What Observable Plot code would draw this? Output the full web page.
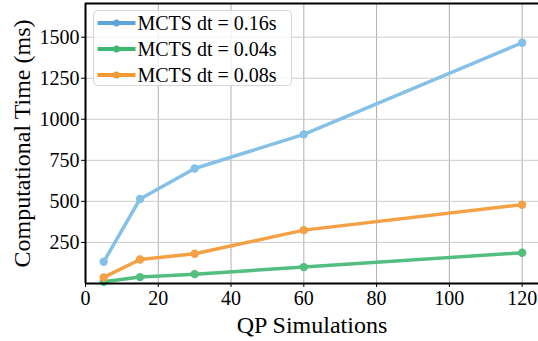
<!DOCTYPE html>
<html>
<head>
<meta charset="utf-8">
<script src="https://cdn.jsdelivr.net/npm/d3@7"></script>
<script src="https://cdn.jsdelivr.net/npm/@observablehq/plot@0.6"></script>
<style>
  html, body { margin: 0; padding: 0; background: white; }
  #wrap { position: relative; width: 538px; height: 341px; }
  #wrap svg, #wrap svg g, #wrap svg text { font-family: "Liberation Serif", "Times New Roman", serif !important; font-variant: normal !important; }
  #legend { position: absolute; left: 0; top: 0; pointer-events: none; }
</style>
</head>
<body>
<div id="wrap"></div>
<script>
// ---- data ----
const qpSims = [5, 15, 30, 60, 120];
const dt016 = [132, 515, 700, 908, 1466];
const dt004 = [10, 39, 57, 100, 187];
const dt008 = [37, 146, 181, 325, 480];
const seriesNames = ["MCTS dt = 0.16s", "MCTS dt = 0.04s", "MCTS dt = 0.08s"];
const lineColors = ["#85C1E6", "#52BE80", "#F4A044"];
const legendColors = ["#5DA5DA", "#3DB870", "#F39A33"];
const xTicks = [0, 20, 40, 60, 80, 100, 120];
const yTicks = [250, 500, 750, 1000, 1250, 1500];
const xLabel = "QP Simulations";
const yLabel = "Computational Time (ms)";

const allSeries = [dt016, dt004, dt008];
const data = [];
allSeries.forEach((vals, i) => vals.forEach((v, j) => data.push({series: seriesNames[i], x: qpSims[j], y: v})));

const font = "Liberation Serif";

const chart = Plot.plot({
  width: 538,
  height: 341,
  marginLeft: 85,
  marginRight: 0,
  marginTop: 3,
  marginBottom: 58,
  style: {fontSize: "20px", background: "white", color: "black", overflow: "visible"},
  x: {domain: [0, 124.5], label: null},
  y: {domain: [0, 1705], label: null},
  color: {domain: seriesNames, range: lineColors},
  marks: [
    Plot.gridX(xTicks, {stroke: "#b0b0b0", strokeOpacity: 1, strokeWidth: 1}),
    Plot.gridY(yTicks, {stroke: "#cccccc", strokeOpacity: 1, strokeWidth: 1}),
    Plot.line(data, {x: "x", y: "y", z: "series", stroke: "series", strokeWidth: 3.5}),
    Plot.dot(data, {x: "x", y: "y", fill: "series", r: 4.2}),
    Plot.axisX({ticks: xTicks, tickFormat: d => String(d), tickSize: 4, tickPadding: 3, fontSize: 20, fontFamily: font, label: null, stroke: "black"}),
    Plot.axisY({ticks: yTicks, tickFormat: d => String(d), tickSize: 4, tickPadding: 2, fontSize: 20, fontFamily: font, label: null, stroke: "black"}),
    Plot.ruleX([0], {stroke: "black", strokeWidth: 2}),
    Plot.ruleY([0], {stroke: "black", strokeWidth: 2}),
    Plot.ruleY([1705], {stroke: "black", strokeWidth: 2}),
    Plot.text([xLabel], {frameAnchor: "bottom", lineAnchor: "bottom", dy: 49, fontSize: 24, fontFamily: font, fill: "black"}),
    Plot.text([yLabel], {frameAnchor: "left", textAnchor: "middle", lineAnchor: "bottom", rotate: -90, dx: -56, fontSize: 24, fontFamily: font, fill: "black"})
  ]
});
document.getElementById("wrap").appendChild(chart);

// ---- legend overlay ----
const lg = d3.select("#wrap").append("svg").attr("id", "legend")
  .attr("width", 538).attr("height", 341);
const g = lg.append("g").attr("transform", "translate(93.5,10.5)");
g.append("rect").attr("width", 198).attr("height", 75).attr("rx", 4)
  .attr("fill", "white").attr("fill-opacity", 0.8).attr("stroke", "#d6d6d6");
seriesNames.forEach((name, i) => {
  const cy = 12.5 + i * 26;
  g.append("line").attr("x1", 4).attr("x2", 42).attr("y1", cy).attr("y2", cy)
    .attr("stroke", legendColors[i]).attr("stroke-width", 4);
  g.append("circle").attr("cx", 23).attr("cy", cy).attr("r", 3.5).attr("fill", legendColors[i]);
  g.append("text").attr("x", 44).attr("y", cy + 7).text(name)
    .attr("font-family", font).attr("font-size", 20).attr("fill", "black");
});
</script>
</body>
</html>
